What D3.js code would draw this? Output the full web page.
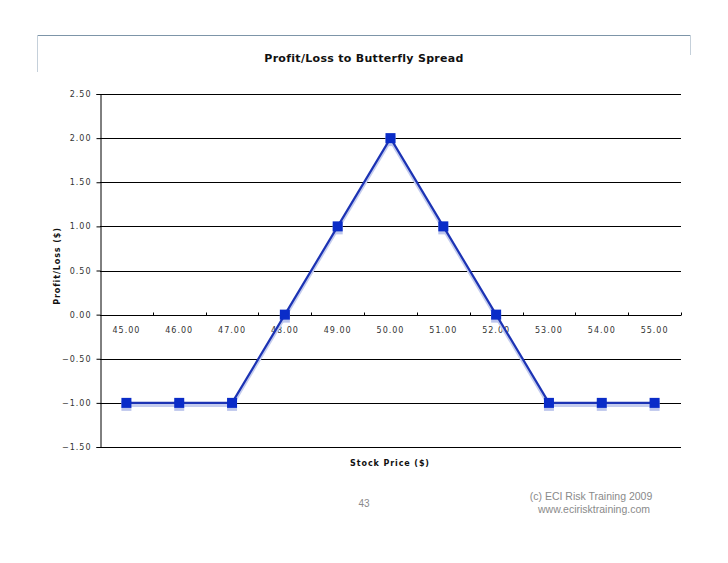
<!DOCTYPE html>
<html>
<head>
<meta charset="utf-8">
<script src="https://cdn.jsdelivr.net/npm/d3@7"></script>
<style>
  body { margin: 0; background: #fff; }
  svg { display: block; }
</style>
</head>
<body>
<div id="chart"></div>
<script>
// data
var prices = ["45.00", "46.00", "47.00", "48.00", "49.00", "50.00",
              "51.00", "52.00", "53.00", "54.00", "55.00"];
var profitLoss = [-1, -1, -1, 0, 1, 2, 1, 0, -1, -1, -1];
var yTicks = [-1.5, -1, -0.5, 0, 0.5, 1, 1.5, 2, 2.5];

var W = 728, H = 563;
var margin = {top: 94, right: 47, bottom: 116, left: 100},
  width = W - margin.left - margin.right,
  height = H - margin.top - margin.bottom;

var root = d3.select("#chart").append("svg")
  .attr("width", W)
  .attr("height", H);

// slide frame (thin blue-grey line at the top)
root.append("line")
  .attr("x1", 37).attr("x2", 691).attr("y1", 35.5).attr("y2", 35.5)
  .attr("stroke", "#7d95a8").attr("stroke-width", 1);
root.append("line")
  .attr("x1", 37.5).attr("x2", 37.5).attr("y1", 35).attr("y2", 72)
  .attr("stroke", "#c5d0da").attr("stroke-width", 1);
root.append("line")
  .attr("x1", 690.5).attr("x2", 690.5).attr("y1", 35).attr("y2", 55)
  .attr("stroke", "#c5d0da").attr("stroke-width", 1);

var svg = root.append("g")
  .attr("transform", "translate(" + margin.left + "," + margin.top + ")");

var x = d3.scaleBand()
  .domain(prices)
  .range([0, width]);

var y = d3.scaleLinear()
  .domain([-1.5, 2.5])
  .range([height, 0]);

// horizontal gridlines
svg.append("g")
  .selectAll("line")
  .data(yTicks)
  .join("line")
    .attr("x1", 0).attr("x2", width)
    .attr("y1", function(d) { return Math.round(y(d)) + 0.5; })
    .attr("y2", function(d) { return Math.round(y(d)) + 0.5; })
    .attr("stroke", "#000").attr("stroke-width", 1);

// y axis
var yAxis = svg.append("g")
  .attr("transform", "translate(0.5,0)")
  .call(d3.axisLeft(y).tickValues(yTicks).tickFormat(d3.format(".2f")).tickSize(4).tickPadding(5));
yAxis.select(".domain").attr("stroke", "#000");
yAxis.selectAll(".tick line").attr("stroke", "#000");
yAxis.selectAll("text")
  .attr("fill", "#333")
  .style("font-family", "DejaVu Sans, Verdana, sans-serif")
  .style("font-size", "8px")
  .style("letter-spacing", "1px");

// x axis sitting on the zero line, ticks between categories
var xg = svg.append("g")
  .attr("transform", "translate(0," + (Math.round(y(0)) + 0.5) + ")");
xg.selectAll("line.sep")
  .data(prices)
  .join("line")
    .attr("class", "sep")
    .attr("x1", function(d) { return Math.round(x(d) + x.bandwidth()) + 0.5; })
    .attr("x2", function(d) { return Math.round(x(d) + x.bandwidth()) + 0.5; })
    .attr("y1", -3).attr("y2", 0)
    .attr("stroke", "#000");
xg.selectAll("text")
  .data(prices)
  .join("text")
    .attr("x", function(d) { return x(d) + x.bandwidth() / 2; })
    .attr("y", 17)
    .attr("text-anchor", "middle")
    .attr("fill", "#333")
    .style("font-family", "DejaVu Sans, Verdana, sans-serif")
    .style("font-size", "8px")
    .style("letter-spacing", "1px")
    .text(function(d) { return d; });

var pts = prices.map(function(p, i) { return {price: p, v: profitLoss[i]}; });
var line = d3.line()
  .x(function(d) { return x(d.price) + x.bandwidth() / 2; })
  .y(function(d) { return y(d.v); });

// soft shadow under the series
svg.append("path")
  .datum(pts)
  .attr("transform", "translate(0,2.5)")
  .attr("fill", "none")
  .attr("stroke", "#c3cbee")
  .attr("stroke-width", 3)
  .attr("d", line);
svg.append("g").selectAll("rect")
  .data(pts)
  .join("rect")
    .attr("x", function(d) { return x(d.price) + x.bandwidth() / 2 - 5; })
    .attr("y", function(d) { return y(d.v) - 5 + 3; })
    .attr("width", 10).attr("height", 10)
    .attr("fill", "#bcc5ec");

svg.append("path")
  .datum(pts)
  .attr("fill", "none")
  .attr("stroke", "#1c33b4")
  .attr("stroke-width", 2.2)
  .attr("d", line);

svg.append("g").selectAll("rect")
  .data(pts)
  .join("rect")
    .attr("x", function(d) { return x(d.price) + x.bandwidth() / 2 - 5; })
    .attr("y", function(d) { return y(d.v) - 5; })
    .attr("width", 10).attr("height", 10)
    .attr("fill", "#0a2cc8");

// titles
root.append("text")
  .attr("x", 364).attr("y", 62)
  .attr("text-anchor", "middle")
  .attr("fill", "#111")
  .style("font-family", "DejaVu Sans, Verdana, sans-serif")
  .style("font-size", "11px")
  .style("font-weight", "bold")
  .style("letter-spacing", "0.3px")
  .text("Profit/Loss to Butterfly Spread");

root.append("text")
  .attr("x", 390).attr("y", 466)
  .attr("text-anchor", "middle")
  .attr("fill", "#111")
  .style("font-family", "DejaVu Sans, Verdana, sans-serif")
  .style("font-size", "8px")
  .style("font-weight", "bold")
  .style("letter-spacing", "0.9px")
  .text("Stock Price ($)");

root.append("text")
  .attr("transform", "translate(60,266) rotate(-90)")
  .attr("text-anchor", "middle")
  .attr("fill", "#111")
  .style("font-family", "DejaVu Sans, Verdana, sans-serif")
  .style("font-size", "8px")
  .style("font-weight", "bold")
  .style("letter-spacing", "0.9px")
  .text("Profit/Loss ($)");

// slide footer
root.append("text")
  .attr("x", 364).attr("y", 507)
  .attr("text-anchor", "middle")
  .attr("fill", "#8a8a8a")
  .style("font-family", "Liberation Sans, Arial, sans-serif")
  .style("font-size", "10px")
  .text("43");

var foot = root.append("text")
  .attr("text-anchor", "middle")
  .attr("fill", "#8a8a8a")
  .style("font-family", "Liberation Sans, Arial, sans-serif")
  .style("font-size", "10.5px");
foot.append("tspan").attr("x", 591).attr("y", 500).text("(c) ECI Risk Training 2009");
foot.append("tspan").attr("x", 594).attr("y", 513).text("www.ecirisktraining.com");
</script>
</body>
</html>
